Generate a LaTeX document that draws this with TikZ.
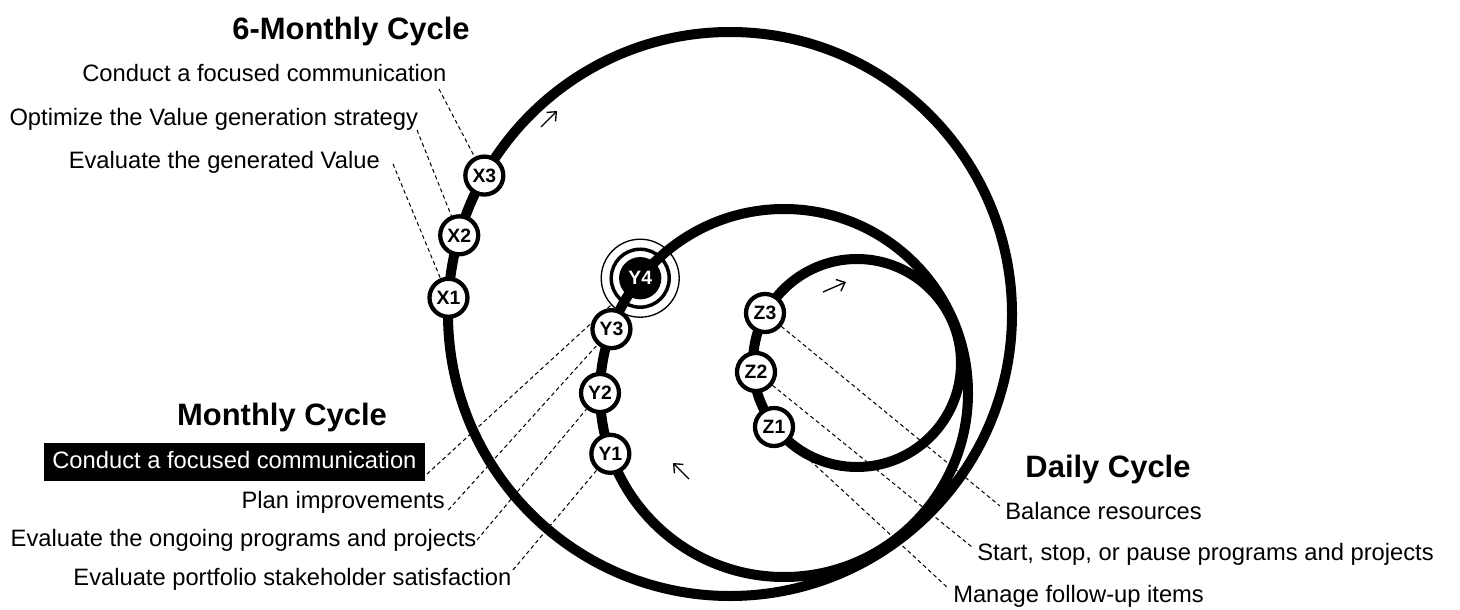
\documentclass[tikz,border=0pt]{standalone}
\usepackage{fontspec}
\setmainfont{Liberation Sans}
\usetikzlibrary{arrows.meta,calc}
\begin{document}
\begin{tikzpicture}[x=0.75pt,y=-0.75pt,
  cyc/.style={line width=7.5pt},
  stage/.style={circle,draw,line width=3.2pt,fill=white,minimum size=28.5pt,inner sep=0pt,
    font=\bfseries\fontsize{14.5pt}{16pt}\selectfont},
  stagehl/.style={stage,fill=black,text=white},
  ringa/.style={circle,draw,line width=2.6pt,minimum size=43.5pt,inner sep=0pt},
  ringb/.style={circle,draw,line width=1pt,minimum size=58.5pt,inner sep=0pt},
  lbl/.style={font=\fontsize{17.8pt}{21pt}\selectfont,inner sep=0pt},
  hl/.style={lbl,fill=black,text=white,inner xsep=6.2pt,inner ysep=6pt,text height=12.75pt,text depth=3.5pt},
  ttl/.style={font=\bfseries\fontsize{23.2pt}{27pt}\selectfont,inner sep=0pt},
  leader/.style={line width=0.75pt,dash pattern=on 3pt off 2.25pt},
  dir/.style={line width=1pt,-{Straight Barb[length=5.5pt,width=9.5pt]}},
]
\fill[white] (0,0) rectangle (1460,610);
\useasboundingbox (0,0) rectangle (1460,610);

% cycles
\coordinate (Bc) at (730,314);
\coordinate (Mc) at (784,393);
\coordinate (Sc) at (857,363);
\draw[cyc] (Bc) circle[radius=211.5pt];
\draw[cyc] (Mc) circle[radius=138pt];
\draw[cyc] (Sc) circle[radius=78pt];

% direction marks
\coordinate (a1s) at (541,127); \coordinate (a1e) at (557,111);
\coordinate (a2s) at (823,292); \coordinate (a2e) at (846,282);
\coordinate (a3s) at (689,479); \coordinate (a3e) at (673,463);
\draw[dir] (a1s) -- (a1e);
\draw[dir] (a2s) -- (a2e);
\draw[dir] (a3s) -- (a3e);

% stages
\node[stage] (X1) at ($(Bc)+(183.3:282)$) {X1};
\node[stage] (X2) at ($(Bc)+(196.2:282)$) {X2};
\node[stage] (X3) at ($(Bc)+(209.4:282)$) {X3};
\node[stage] (Y1) at ($(Mc)+(160.7:184)$) {Y1};
\node[stage] (Y2) at ($(Mc)+(180.0:184)$) {Y2};
\node[stage] (Y3) at ($(Mc)+(200.3:184)$) {Y3};
\node[stagehl] (Y4) at ($(Mc)+(218.6:184)$) {Y4};
\node[ringa] (Y4m) at (Y4) {};
\node[ringb] (Y4o) at (Y4) {};
\node[stage] (Z1) at (774,427) {Z1};
\node[stage] (Z2) at (756,372) {Z2};
\node[stage] (Z3) at (765,313) {Z3};

% titles
\node[ttl,anchor=base] (t6) at (351,40) {6-Monthly Cycle};
\node[ttl,anchor=base] (t1) at (282,425) {Monthly Cycle};
\node[ttl,anchor=base] (t0) at (1108,477) {Daily Cycle};

% 6-monthly labels
\node[lbl,anchor=base east] (lx3) at (446.7,81.7) {Conduct a focused communication};
\node[lbl,anchor=base east] (lx2) at (418.3,125) {Optimize the Value generation strategy};
\node[lbl,anchor=base east] (lx1) at (380,168.3) {Evaluate the generated Value};
\coordinate (px3) at (439,89);
\coordinate (px2) at (417,130);
\coordinate (px1) at (393,164);
\draw[leader] (px3) -- (X3);
\draw[leader] (px2) -- (X2);
\draw[leader] (px1) -- (X1);

% monthly labels
\node[hl,anchor=base east] (ly4) at (425,468.3) {Conduct a focused communication};
\node[lbl,anchor=base east] (ly3) at (445,508.3) {Plan improvements};
\node[lbl,anchor=base east] (ly2) at (476.7,546.7) {Evaluate the ongoing programs and projects};
\node[lbl,anchor=base east] (ly1) at (511.7,585) {Evaluate portfolio stakeholder satisfaction};
\coordinate (py4) at (427,474);
\coordinate (py3) at (448.3,510);
\coordinate (py2) at (477,540);
\coordinate (py1) at (513,570);
\draw[leader] (py4) -- (Y4o);
\draw[leader] (py3) -- (Y3);
\draw[leader] (py2) -- (Y2);
\draw[leader] (py1) -- (Y1);

% daily labels
\node[lbl,anchor=base west] (lz3) at (1005,519) {Balance resources};
\node[lbl,anchor=base west] (lz2) at (977,560) {Start, stop, or pause programs and projects};
\node[lbl,anchor=base west] (lz1) at (953,602) {Manage follow-up items};
\coordinate (pz3) at (1000,506);
\coordinate (pz2) at (972,547);
\coordinate (pz1) at (948,588);
\draw[leader] (Z3) -- (pz3);
\draw[leader] (Z2) -- (pz2);
\draw[leader] (Z1) -- (pz1);
\end{tikzpicture}
\end{document}
